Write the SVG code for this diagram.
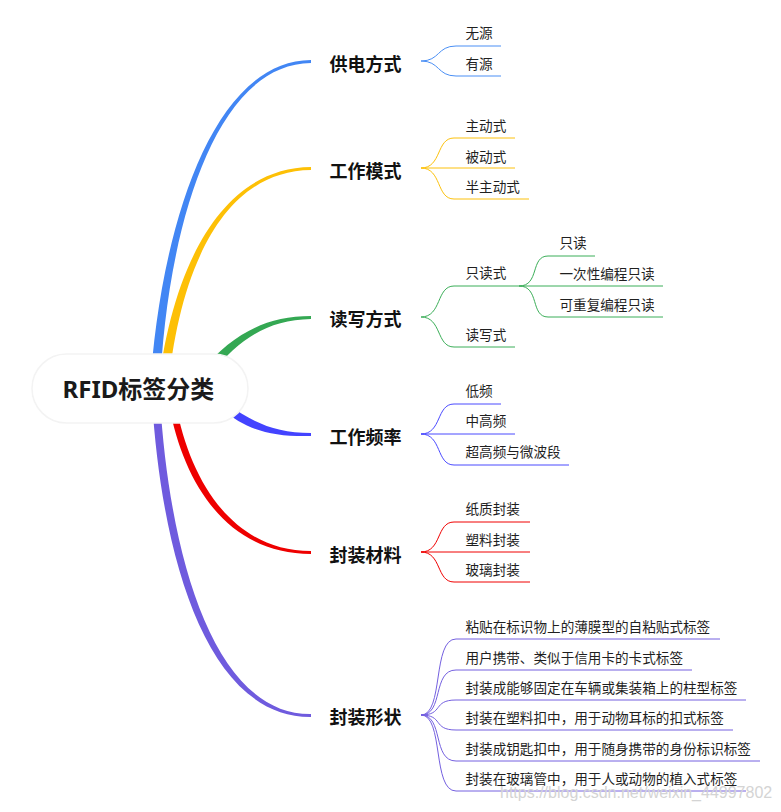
<svg xmlns="http://www.w3.org/2000/svg" width="781" height="812" viewBox="0 0 781 812">
<style>
text{font-family:"Noto Sans","Noto Sans CJK SC",sans-serif;fill:#1f1f1f}
.b{font-size:18px;font-weight:700;fill:#111}
.l{font-size:13.6px;font-weight:400}
.c{font-size:24px;font-weight:700;fill:#1a1a1a}
.w{font-size:16px;fill:#d4d4d4;font-family:"Liberation Sans",sans-serif}
.s{fill:none;stroke-width:1}
.blue{stroke:#4a8ff5}.yel{stroke:#fcc10c}.gr{stroke:#3bae58}.ind{stroke:#4a4aff}.red{stroke:#f00000}.pur{stroke:#7460e0}
</style>
<rect width="781" height="812" fill="#fff"/>
<g id="connectors">
<g id="main">
<path d="M150,390 C158,250 205,61 311,60 L311,63 C208,64 165,250 160,390Z" fill="#4286f4"/>
<path d="M158,390 C170,280 215,168 311,167 L311,170 C218,171 178,280 168,390Z" fill="#fdc006"/>
<path d="M202,370 C232,335 265,316 311,316 L311,319 C268,320 240,338 210,375Z" fill="#34a853"/>
<path d="M226,403 C252,422 275,433 311,433 L311,436 C272,437 246,430 222,409Z" fill="#4343ff"/>
<path d="M176,405 C190,480 232,551 311,551 L311,554 C228,554 184,485 169,405Z" fill="#ee0000"/>
<path d="M160,400 C170,560 215,715 311,714 L311,717 C208,718 162,560 152,400Z" fill="#6f5bde"/>
</g>
<g id="sub">
<path class="s blue" d="M421,61 C440,61 437,46 456,46 H501 M421,61 C440,61 437,76 456,76 H501"/>
<path class="s yel" d="M421,168 C442,168 436,138 454,138 H515 M421,168 H515 M421,168 C442,168 436,199 454,199 H529"/>
<path class="s gr" d="M421,317 C442,317 436,286 454,286 H519 M421,317 C442,317 436,347 454,347 H515 M519,286 C540,286 530,256 548,256 H595 M519,286 H663 M519,286 C540,286 530,317 548,317 H663"/>
<path class="s ind" d="M421,434 C442,434 436,404 454,404 H501 M421,434 H515 M421,434 C442,434 436,465 454,465 H569"/>
<path class="s red" d="M421,552 C442,552 436,522 454,522 H530 M421,552 H530 M421,552 C442,552 436,582 454,582 H530"/>
<path class="s pur" d="M421,715 C444,715 432,639 456,639 H720 M421,715 C444,715 432,670 456,670 H692 M421,715 C444,715 432,700 456,700 H746 M421,715 C444,715 432,730 456,730 H733 M421,715 C444,715 432,761 456,761 H760 M421,715 C444,715 432,791 456,791 H746"/>
</g>
</g>
<g id="root"><rect x="32" y="354" width="216" height="69" rx="34.5" fill="#fff" stroke="#f3f3f3" stroke-width="1.5"/><text class="c" x="62.5" y="398">RFID标签分类</text></g>
<g id="n1"><text class="b" x="329.5" y="71">供电方式</text><text class="l" x="465.5" y="38">无源</text><text class="l" x="465.5" y="69">有源</text></g>
<g id="n2"><text class="b" x="329.5" y="178">工作模式</text><text class="l" x="465.5" y="131">主动式</text><text class="l" x="465.5" y="162">被动式</text><text class="l" x="465.5" y="192">半主动式</text></g>
<g id="n3"><text class="b" x="329.5" y="326">读写方式</text><text class="l" x="465.5" y="278">只读式</text><text class="l" x="465.5" y="340">读写式</text><text class="l" x="559.5" y="248">只读</text><text class="l" x="559.5" y="279">一次性编程只读</text><text class="l" x="559.5" y="310">可重复编程只读</text></g>
<g id="n4"><text class="b" x="329.5" y="444">工作频率</text><text class="l" x="465.5" y="396">低频</text><text class="l" x="465.5" y="426">中高频</text><text class="l" x="465.5" y="457">超高频与微波段</text></g>
<g id="n5"><text class="b" x="329.5" y="562">封装材料</text><text class="l" x="465.5" y="514">纸质封装</text><text class="l" x="465.5" y="545">塑料封装</text><text class="l" x="465.5" y="575">玻璃封装</text></g>
<g id="n6"><text class="b" x="329.5" y="724">封装形状</text><text class="l" x="465.5" y="632">粘贴在标识物上的薄膜型的自粘贴式标签</text><text class="l" x="465.5" y="663">用户携带、类似于信用卡的卡式标签</text><text class="l" x="465.5" y="693">封装成能够固定在车辆或集装箱上的柱型标签</text><text class="l" x="465.5" y="723">封装在塑料扣中，用于动物耳标的扣式标签</text><text class="l" x="465.5" y="754">封装成钥匙扣中，用于随身携带的身份标识标签</text><text class="l" x="465.5" y="784">封装在玻璃管中，用于人或动物的植入式标签</text></g>
<text class="w" x="500" y="798">https://blog.csdn.net/weixin_44997802</text>
</svg>
